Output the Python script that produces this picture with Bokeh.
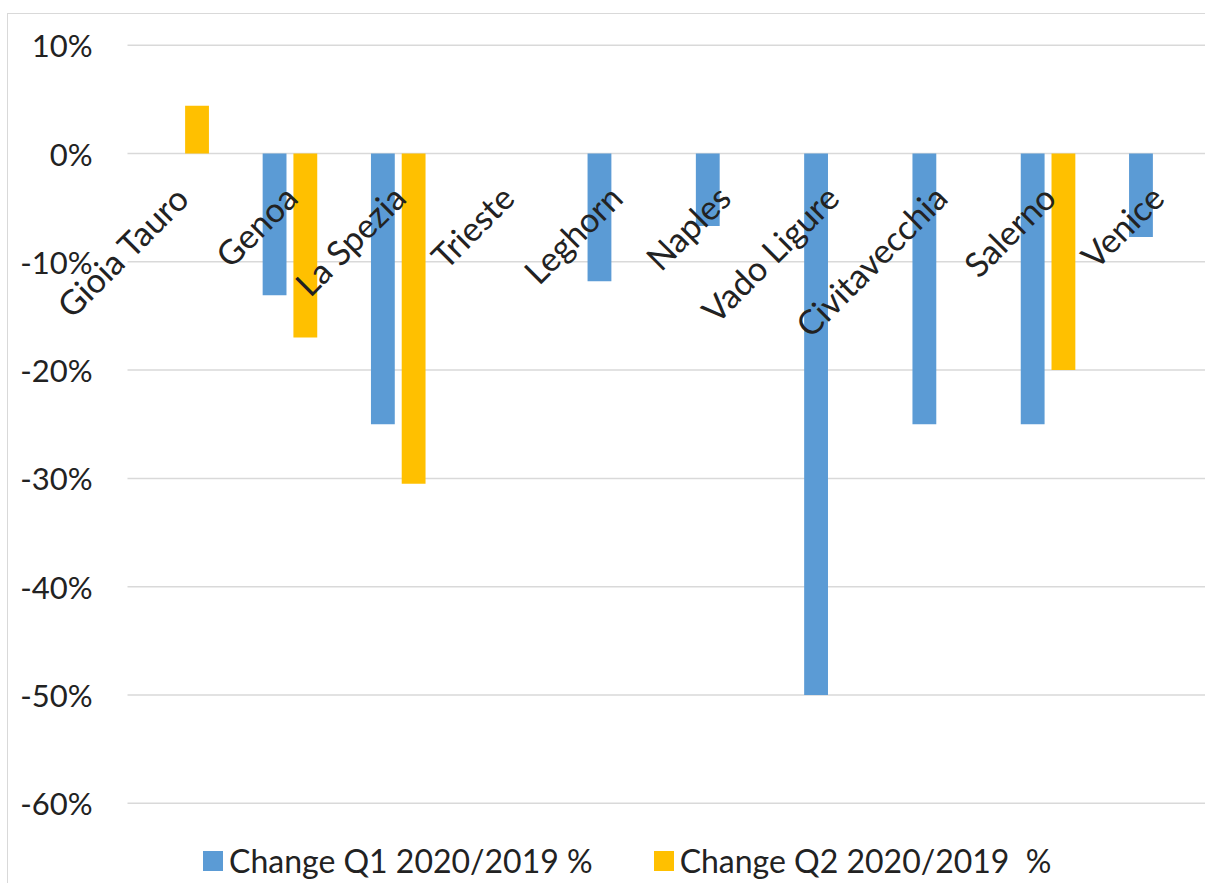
from math import pi
from bokeh.plotting import figure
from bokeh.models import (ColumnDataSource, Range1d, FixedTicker,
                          PrintfTickFormatter, LabelSet, Legend, LegendItem)
from bokeh.embed import file_html
from bokeh.resources import INLINE
from bokeh.core.properties import value

# ---- data ----
ports = ["Gioia Tauro", "Genoa", "La Spezia", "Trieste", "Leghorn", "Naples",
         "Vado Ligure", "Civitavecchia", "Salerno", "Venice"]
change_q1 = [0.0, -13.1, -25.0, 0.0, -11.8, -6.7, -50.0, -25.0, -25.0, -7.7]
change_q2 = [4.4, -17.0, -30.5, 0.0, 0.0, 0.0, 0.0, 0.0, -20.0, 0.0]
series_names = ["Change Q1 2020/2019 %", "Change Q2 2020/2019  %"]
y_ticks = [10, 0, -10, -20, -30, -40, -50, -60]

# ---- layout constants (pixels) ----
W, H = 1198, 870             # figure size (placed at page x=8, y=14)
FRAME_L = 12                 # frame left inside the figure
CAT_PX = 108.3               # width of one category
FIRST_CAT_EDGE = 119         # left edge of first category (figure px)
ZERO_Y = 139                 # y of 0% line (figure px)
PX_PER_PCT = 10.83
AXIS_LABEL_RIGHT = 84        # right edge of y tick labels (figure px)

BLUE = "#5B9BD5"
YELLOW = "#FFC000"
FONT = "Lato"
TXT = "#222222"
GRID = "#d9d9d9"

idx = list(range(len(ports)))
x_start = -0.5 - (FIRST_CAT_EDGE - FRAME_L) / CAT_PX
x_end = x_start + (W - FRAME_L) / CAT_PX
y_top = ZERO_Y / PX_PER_PCT
y_bot = y_top - H / PX_PER_PCT

src = ColumnDataSource(dict(
    idx=idx, port=ports, q1=change_q1, q2=change_q2,
    x1=[i - 0.142 for i in idx], x2=[i + 0.142 for i in idx],
    ly=[0] * len(ports)))
grid_src = ColumnDataSource(dict(
    y=y_ticks, x0=[-0.5] * len(y_ticks), x1=[len(ports) - 0.5] * len(y_ticks)))

p = figure(width=W, height=H, x_range=Range1d(x_start, x_end),
           y_range=Range1d(y_bot, y_top), x_axis_location=None,
           output_backend="svg", toolbar_location=None,
           min_border_left=FRAME_L, min_border_right=0,
           min_border_top=0, min_border_bottom=0,
           margin=(13, 0, 0, 7),
           styles={"border-top": "1px solid #d9d9d9",
                   "border-left": "1px solid #d9d9d9"})

p.outline_line_color = None
p.xgrid.visible = False
p.ygrid.visible = False

# horizontal gridlines at the tick values, spanning the category area
p.segment(x0="x0", x1="x1", y0="y", y1="y", source=grid_src,
          line_color=GRID, line_width=1.5)

r1 = p.vbar(x="x1", top="q1", width=0.22, source=src,
            fill_color=BLUE, line_color=None)
r2 = p.vbar(x="x2", top="q2", width=0.22, source=src,
            fill_color=YELLOW, line_color=None)

ax = p.yaxis[0]
ax.ticker = FixedTicker(ticks=y_ticks)
ax.formatter = PrintfTickFormatter(format="%d%%")
ax.axis_line_color = None
ax.major_tick_line_color = None
ax.minor_tick_line_color = None
ax.major_tick_out = 0
ax.major_tick_in = 0
ax.major_label_standoff = -(AXIS_LABEL_RIGHT - FRAME_L)
ax.major_label_text_font = FONT
ax.major_label_text_font_size = "31px"
ax.major_label_text_color = TXT

labels = LabelSet(x="idx", y="ly", text="port", source=src, angle=pi / 4,
                  text_align="right", text_baseline="top",
                  x_offset=-14, y_offset=-23, text_font=value(FONT),
                  text_font_size="34px", text_color=TXT)
p.add_layout(labels)

legend = Legend(items=[LegendItem(label=series_names[0], renderers=[r1]),
                       LegendItem(label=series_names[1], renderers=[r2])],
                orientation="horizontal", location=(180, 4),
                padding=0, margin=0, spacing=58, glyph_width=25, glyph_height=25,
                label_standoff=4, label_text_font=FONT, label_text_font_size="32px",
                label_text_color=TXT, border_line_color=None,
                background_fill_alpha=0)
p.add_layout(legend)

open("out.html", "w").write(file_html(p, INLINE))
